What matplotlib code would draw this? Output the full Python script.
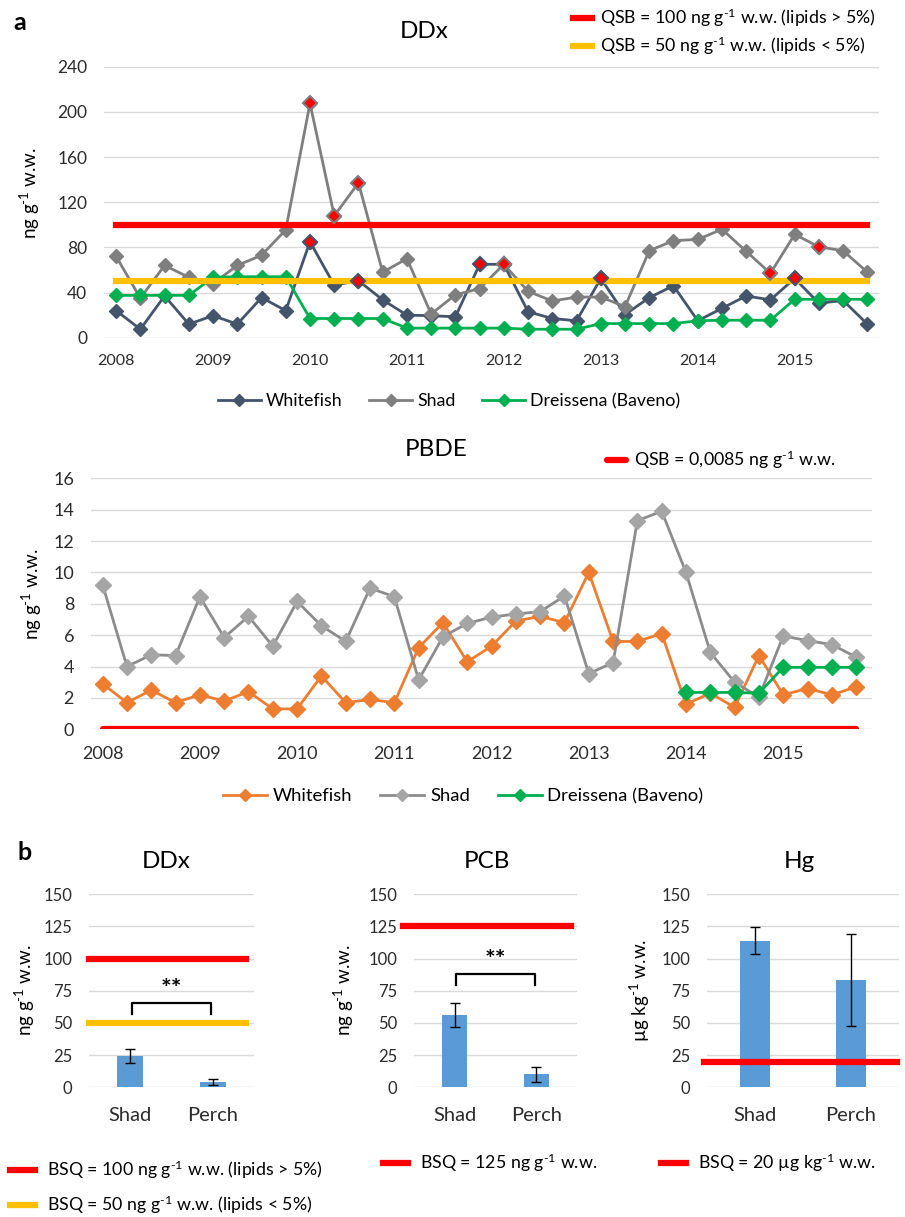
import numpy as np
import matplotlib
matplotlib.use('Agg')
import matplotlib.pyplot as plt

plt.rcParams['font.family'] = ['Lato', 'DejaVu Sans']
plt.rcParams['mathtext.fontset'] = 'custom'
plt.rcParams['mathtext.rm'] = 'Lato'
plt.rcParams['mathtext.default'] = 'rm'

# quarterly sampling, 2008 Q1 .. 2015 Q4
quarters = [2008 + i / 4 for i in range(32)]
years = list(range(2008, 2016))

# DDx (ng/g w.w.)
ddx_whitefish = [24, 7.5, 37, 12, 19.5, 12, 35.5, 24, 85, 46.5, 50.5, 33.5, 20, 19.5, 18.5, 65,
                 65, 23, 17, 15, 52.5, 20.5, 35.5, 46, 15, 26, 37, 33.5, 52.5, 30.5, 33, 12]
ddx_shad = [72, 35, 64, 53.5, 48, 64, 73, 95.5, 207.5, 108, 137, 58, 70, 21, 38, 43.5,
            65, 41, 32.5, 36, 36, 27.5, 77, 86, 87, 96, 76.5, 57, 91.5, 80.5, 77, 58]
ddx_dreissena = [37.5, 37.5, 37.5, 37.5, 53.5, 54, 54, 54, 17, 17, 17, 17, 8.5, 8.5, 8.5, 8.5,
                 8.5, 7.5, 7.5, 7.5, 12.5, 12.5, 12.5, 12.5, 15, 15.5, 15.5, 15.5, 34, 34, 34, 34]
# samples above their quality standard
ddx_whitefish_over = [8, 10, 15, 16, 20, 28]
ddx_shad_over = [8, 9, 10, 16, 27, 29]

# PBDE (ng/g w.w.)
pbde_whitefish = [2.9, 1.7, 2.5, 1.7, 2.2, 1.8, 2.4, 1.3, 1.3, 3.4, 1.7, 1.9, 1.7, 5.2, 6.8, 4.3,
                  5.3, 6.9, 7.2, 6.8, 10.0, 5.6, 5.6, 6.1, 1.6, 2.3, 1.4, 4.7, 2.2, 2.6, 2.2, 2.7]
pbde_shad = [9.2, 4.0, 4.75, 4.7, 8.45, 5.85, 7.2, 5.3, 8.15, 6.6, 5.6, 9.0, 8.45, 3.15, 5.9, 6.75,
             7.15, 7.35, 7.5, 8.5, 3.55, 4.25, 13.3, 13.9, 10.0, 4.9, 3.0, 2.05, 5.95, 5.65, 5.4, 4.6]
pbde_dreissena = [2.35, 2.35, 2.35, 2.3, 3.95, 3.95, 3.95, 3.95]  # from 2014 on
dreissena_start = 24

# panel b: means and standard deviations
species = ['Shad', 'Perch']
b_ddx = [24.5, 4.0]
b_ddx_sd = [5.5, 2.6]
b_pcb = [56, 10]
b_pcb_sd = [9.3, 6.0]
b_hg = [114, 83.5]
b_hg_sd = [10.6, 35.6]

qsb_ddx_high, qsb_ddx_low = 100, 50
qsb_pbde = 0.0085
bsq_pcb = 125
bsq_hg = 20

NAVY = '#44546A'
GREY = '#7F7F7F'
LGREY = '#A5A5A5'
GREEN = '#00B050'
ORANGE = '#ED7D31'
RED = '#FF0000'
YELLOW = '#FFC000'
BLUE = '#5B9BD5'
TXT = '#2b2b2b'

W, H = 905, 1217
fig = plt.figure(figsize=(W / 100, H / 100), dpi=100)


def fx(px):
    return px / W


def fy(py):
    return 1 - py / H


def px_axes(left, top, right, bottom):
    return fig.add_axes([fx(left), fy(bottom), (right - left) / W, (bottom - top) / H])


def style(ax, xsize, ysize, xpad, ypad):
    for s in ax.spines.values():
        s.set_visible(False)
    ax.grid(axis='y', color='#D9D9D9', lw=1)
    ax.set_axisbelow(True)
    ax.tick_params(axis='x', length=0, labelsize=xsize, colors=TXT, pad=xpad)
    ax.tick_params(axis='y', length=0, labelsize=ysize, colors=TXT, pad=ypad)


unit_ng = r'ng g$^{\text{-1}}$ w.w.'
unit_ug = r'µg kg$^{\text{-1}}$ w.w.'

# ---- a: DDx time series
ax1 = px_axes(104, 66.7, 879, 337.7)
style(ax1, 11.5, 12.5, 12, 12)
kw = dict(marker='D', lw=2, ms=7.5, zorder=3)
l1, = ax1.plot(quarters, ddx_whitefish, color=NAVY, label='Whitefish', **kw)
l2, = ax1.plot(quarters, ddx_shad, color=GREY, label='Shad', **kw)
l3, = ax1.plot(quarters, ddx_dreissena, color=GREEN, label='Dreissena (Baveno)', **kw)
t1, = ax1.plot([quarters[0], quarters[-1]], [qsb_ddx_high] * 2, color=RED, lw=4.5, zorder=4,
               label='QSB = 100 ' + unit_ng + ' (lipids > 5%)')
t2, = ax1.plot([quarters[0], quarters[-1]], [qsb_ddx_low] * 2, color=YELLOW, lw=4.5, zorder=4,
               label='QSB = 50 ' + unit_ng + ' (lipids < 5%)')
for i in ddx_whitefish_over:
    ax1.plot(quarters[i], ddx_whitefish[i], 'D', ms=7.5, mfc=RED, mec=NAVY, mew=1.5, zorder=6)
for i in ddx_shad_over:
    ax1.plot(quarters[i], ddx_shad[i], 'D', ms=7.5, mfc=RED, mec=GREY, mew=1.5, zorder=6)
ax1.set_xlim(quarters[0] - 0.125, quarters[-1] + 0.12)
ax1.set_ylim(0, 240)
ax1.set_yticks(range(0, 241, 40))
ax1.set_xticks(years)

fig.legend(handles=[l1, l2, l3], loc='center left', bbox_to_anchor=(fx(218), fy(401)),
           ncol=3, frameon=False, fontsize=12.8, handlelength=2.4, handletextpad=0.3,
           columnspacing=1.5, borderpad=0, borderaxespad=0, markerscale=0.8)
fig.legend(handles=[t1, t2], loc='upper left', bbox_to_anchor=(fx(573), fy(7)),
           frameon=False, fontsize=12.8, handlelength=1.05, handletextpad=0.45,
           labelspacing=0.3, borderpad=0, borderaxespad=0)
fig.text(fx(424), fy(32), 'DDx', fontsize=17.5, ha='center', va='center', color='black')
fig.text(fx(30), fy(193), unit_ng, fontsize=13.5, rotation=90, ha='center', va='center')
fig.text(fx(20), fy(22), 'a', fontsize=18, fontweight='bold', ha='center', va='center')

# ---- a: PBDE time series
ax2 = px_axes(90.7, 478.3, 871.7, 729.3)
style(ax2, 13, 13, 12, 12)
kw = dict(marker='D', lw=2, ms=8, zorder=3)
p1, = ax2.plot(quarters, pbde_whitefish, color=ORANGE, label='Whitefish', **kw)
p2, = ax2.plot(quarters, pbde_shad, color='#8C8C8C', mfc=LGREY, mec=LGREY, label='Shad', **kw)
p3, = ax2.plot(quarters[dreissena_start:], pbde_dreissena, color=GREEN,
               label='Dreissena (Baveno)', **kw)
q1, = ax2.plot([quarters[0], quarters[-1]], [qsb_pbde] * 2, color=RED, lw=4.5, zorder=4,
               solid_capstyle='round', label='QSB = 0,0085 ' + unit_ng)
ax2.set_xlim(quarters[0] - 0.123, quarters[-1] + 0.16)
ax2.set_ylim(0, 16)
ax2.set_yticks(range(0, 17, 2))
ax2.set_xticks(years)

fig.legend(handles=[p1, p2, p3], loc='center left', bbox_to_anchor=(fx(223), fy(796)),
           ncol=3, frameon=False, fontsize=13.3, handlelength=2.4, handletextpad=0.3,
           columnspacing=1.5, borderpad=0, borderaxespad=0, markerscale=0.8)
fig.legend(handles=[q1], loc='center left', bbox_to_anchor=(fx(607), fy(460)),
           frameon=False, fontsize=12.8, handlelength=1.05, handletextpad=0.45,
           borderpad=0, borderaxespad=0)
fig.text(fx(436), fy(450), 'PBDE', fontsize=17.5, ha='center', va='center', color='black')
fig.text(fx(32), fy(594), unit_ng, fontsize=13.5, rotation=90, ha='center', va='center')


# ---- b: bar panels
def bar_panel(left, right, title, title_x, values, sds, ylabel, ylabel_x):
    ax = px_axes(left, 894.3, right, 1087.3)
    style(ax, 14.5, 12, 14, 12)
    ax.bar([0, 1], values, width=0.31, color=BLUE, zorder=2,
           yerr=sds, error_kw=dict(ecolor='black', elinewidth=1, capsize=3.5, capthick=1, zorder=3))
    ax.set_xlim(-0.5, 1.5)
    ax.set_ylim(0, 150)
    ax.set_yticks(range(0, 151, 25))
    ax.set_xticks([0, 1])
    ax.set_xticklabels(species)
    fig.text(fx(title_x), fy(862), title, fontsize=17.5, ha='center', va='center', color='black')
    fig.text(fx(ylabel_x), fy(990), ylabel, fontsize=13.5, rotation=90, ha='center', va='center')
    return ax


def bracket(ax, y_top, y_end):
    ax.plot([0.02, 0.02, 0.98, 0.98], [y_end, y_top, y_top, y_end], color='black', lw=1.6, zorder=4)
    ax.text(0.5, y_top + 1.5, '**', fontsize=18, fontweight='bold', ha='center', va='bottom')


bx1 = bar_panel(89, 254, 'DDx', 166, b_ddx, b_ddx_sd, unit_ng, 25)
r1, = bx1.plot([-0.5, 1.4], [qsb_ddx_high] * 2, color=RED, lw=4.5, zorder=4, clip_on=False,
               label='BSQ = 100 ' + unit_ng + ' (lipids > 5%)')
r2, = bx1.plot([-0.5, 1.4], [qsb_ddx_low] * 2, color=YELLOW, lw=4.5, zorder=4, clip_on=False,
               label='BSQ = 50 ' + unit_ng + ' (lipids < 5%)')
bracket(bx1, 65.3, 56.7)

bx2 = bar_panel(414, 577, 'PCB', 487, b_pcb, b_pcb_sd, unit_ng, 344)
r3, = bx2.plot([-0.635, 1.43], [bsq_pcb] * 2, color=RED, lw=4.5, zorder=4, clip_on=False,
               label='BSQ = 125 ' + unit_ng)
bracket(bx2, 88, 79.5)

bx3 = bar_panel(707, 899, 'Hg', 799, b_hg, b_hg_sd, unit_ug, 640)
r4, = bx3.plot([-0.53, 1.48], [bsq_hg] * 2, color=RED, lw=4.5, zorder=4, clip_on=False,
               label='BSQ = 20 ' + unit_ug)

lg = dict(frameon=False, fontsize=12.8, handlelength=1.4, handletextpad=0.7,
          borderpad=0, borderaxespad=0)
fig.legend(handles=[r1, r2], loc='upper left', bbox_to_anchor=(fx(10), fy(1159)),
           labelspacing=0.7, **lg)
fig.legend(handles=[r3], loc='center left', bbox_to_anchor=(fx(383), fy(1163)), **lg)
fig.legend(handles=[r4], loc='center left', bbox_to_anchor=(fx(661), fy(1163)), **lg)
fig.text(fx(25), fy(852), 'b', fontsize=18, fontweight='bold', ha='center', va='center')

fig.savefig('out.png', dpi=100, facecolor='white')
